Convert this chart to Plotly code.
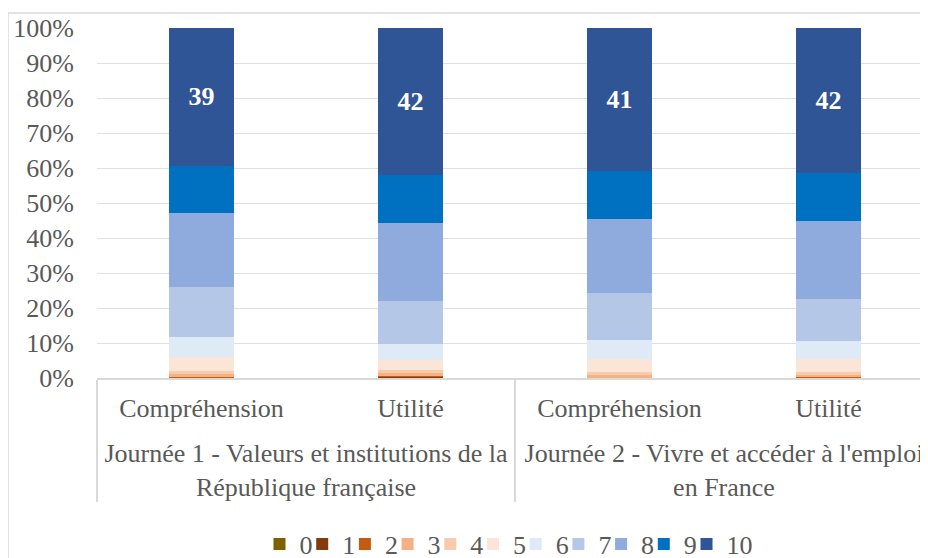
import plotly.graph_objects as go

groups = [
    "Journée 1 - Valeurs et institutions de la<br>République française",
    "Journée 1 - Valeurs et institutions de la<br>République française",
    "Journée 2 - Vivre et accéder à l'emploi<br>en France",
    "Journée 2 - Vivre et accéder à l'emploi<br>en France",
]
subcats = ["Compréhension", "Utilité", "Compréhension", "Utilité"]

scores = ["0", "1", "2", "3", "4", "5", "6", "7", "8", "9", "10"]
# percentage of answers per score, per bar
values = {
    "0": [0.0, 0.0, 0.0, 0.0],
    "1": [0.0, 0.4, 0.0, 0.1],
    "2": [0.2, 0.4, 0.1, 0.4],
    "3": [1.0, 0.5, 0.8, 0.3],
    "4": [0.8, 0.9, 0.9, 0.9],
    "5": [4.0, 3.0, 3.6, 3.6],
    "6": [5.7, 4.6, 5.5, 5.2],
    "7": [14.4, 12.3, 13.4, 12.0],
    "8": [21.0, 22.3, 21.1, 22.3],
    "9": [13.5, 13.7, 13.7, 13.7],
    "10": [39.4, 41.9, 40.9, 41.6],
}
labels_10 = ["39", "42", "41", "42"]

colors = ["#7f6000", "#843c0c", "#c55a11", "#f4b183", "#f8cbad", "#fbe5d6",
          "#deebf7", "#b4c7e7", "#8faadc", "#0070c0", "#2f5597"]

FF = "Liberation Serif"
grey = "#595959"
FS = 26

# the page has an 8px body margin: figure coords = page coords - 8
FIG_W, FIG_H = 920, 550
L, R, T, B = 89, 920, 20, 370
W, H = R - L, B - T

# first-level labels get a small invisible trailing line so that the
# group labels sit lower, as in the reference
pad_line = "<br><sup><span style='font-size:12px'>&nbsp;</span></sup>"
subcat_labels = [s + pad_line for s in subcats]

fig = go.Figure()
legend_layouts = {}
for i, (s, c) in enumerate(zip(scores, colors)):
    kw = {}
    if s == "10":
        kw = dict(text=labels_10, textposition="inside", insidetextanchor="middle",
                  textfont=dict(color="white", size=FS, family=FF),
                  texttemplate="<b>%{text}</b>")
    lname = "legend" if i == 0 else f"legend{i + 1}"
    fig.add_trace(go.Bar(
        x=[groups, subcat_labels], y=values[s], name=s,
        marker=dict(color=c, line=dict(width=0)),
        width=0.31, hoverinfo="skip", legend=lname, **kw))
    sq_center = 275.5 + i * 42.7
    legend_layouts[lname] = dict(
        x=(sq_center - 4 - 20 - L) / W, xanchor="left",
        y=(B - 536) / H, yanchor="middle",
        font=dict(size=FS, color=grey, family=FF),
        itemwidth=30, bgcolor="rgba(0,0,0,0)", borderwidth=0,
    )

fig.update_layout(
    barmode="stack",
    width=FIG_W, height=FIG_H,
    margin=dict(l=L, r=FIG_W - R, t=T, b=FIG_H - B, autoexpand=False),
    paper_bgcolor="white", plot_bgcolor="white",
    font=dict(family=FF, size=FS, color=grey),
    showlegend=True,
    uniformtext=dict(mode="show", minsize=10),
    xaxis=dict(
        type="multicategory", range=[-0.5, 3.476], automargin=False,
        showline=True, linecolor="#d9d9d9", linewidth=1.5,
        showdividers=True, dividercolor="#d9d9d9", dividerwidth=1.5,
        tickfont=dict(size=FS, color=grey, family=FF),
        ticklabelstandoff=6,
        showgrid=False, ticks="",
    ),
    yaxis=dict(
        range=[0, 100], dtick=10, ticksuffix="%", automargin=False,
        showgrid=True, gridcolor="#e0e0e0", gridwidth=1,
        zeroline=False, showline=False,
        tickfont=dict(size=FS, color=grey, family=FF),
        ticklabelstandoff=22,
    ),
    shapes=[dict(type="rect", xref="paper", yref="paper",
                 x0=(0 - L) / W, x1=1.2, y0=-1.0, y1=(B - 5) / H,
                 line=dict(color="#d9d9d9", width=1.5), fillcolor="rgba(0,0,0,0)",
                 layer="below")],
    **legend_layouts,
)

fig.write_html("out.html")
